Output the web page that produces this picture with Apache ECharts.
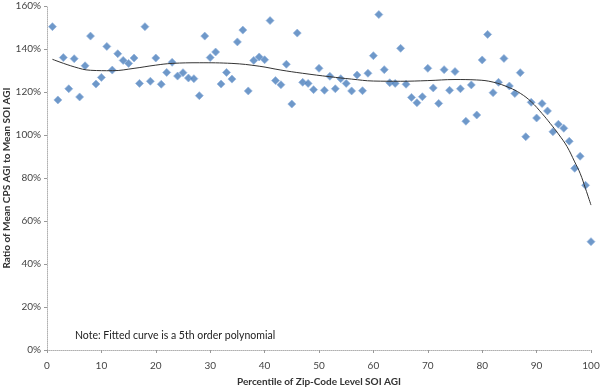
<!DOCTYPE html>
<html>
<head>
<meta charset="utf-8">
<script src="https://cdn.jsdelivr.net/npm/echarts@6/dist/echarts.min.js"></script>
<style>html,body{margin:0;padding:0;background:#fff}#c{width:600px;height:387px}</style>
</head>
<body>
<div id="c"></div>
<script>
const percentiles = [1,2,3,4,5,6,7,8,9,10,11,12,13,14,15,16,17,18,19,20,21,22,23,24,25,26,27,28,29,30,31,32,33,34,35,36,37,38,39,40,41,42,43,44,45,46,47,48,49,50,51,52,53,54,55,56,57,58,59,60,61,62,63,64,65,66,67,68,69,70,71,72,73,74,75,76,77,78,79,80,81,82,83,84,85,86,87,88,89,90,91,92,93,94,95,96,97,98,99,100];
const ratios = [150.4,116.3,136.0,121.5,135.5,117.7,132.2,146.0,123.7,126.8,141.2,130.2,137.8,134.7,133.3,135.8,124.0,150.4,125.0,135.8,123.6,129.1,133.8,127.4,129.0,126.5,126.2,118.3,146.0,136.0,138.6,123.7,129.1,126.0,143.3,148.8,120.5,134.7,136.3,135.0,153.2,125.3,123.4,132.9,114.4,147.4,124.5,124.0,121.1,131.0,120.8,127.3,121.5,126.2,124.0,120.5,127.9,120.6,128.7,136.9,156.0,130.4,124.3,124.0,140.3,123.6,117.5,115.0,117.8,131.0,121.9,114.7,130.4,120.8,129.5,121.5,106.4,123.3,109.3,134.9,146.8,119.7,124.5,135.6,122.8,119.3,129.0,99.2,115.2,107.9,114.6,111.2,101.5,105.0,103.1,97.1,84.5,90.1,76.6,50.4];
const curveX = [1,5,8,12,16,20,23,28,34,39,43,47,52,56,60,65,70,75,79,82,85,87,89,91,92.5,94,95.6,97,98,99,100];
const curveY = [135.2,131.7,130.1,129.9,131.0,132.5,133.3,133.6,133.3,132.0,130.2,128.7,127.1,126.0,125.1,125.0,125.3,125.8,125.6,124.6,122.0,119.4,115.5,110.0,105.4,100.5,94.6,87.5,82.2,75.0,67.4];
const xTicks = {min:0, max:100, interval:10};
const yTicks = {min:0, max:160, interval:20};

const chart = echarts.init(document.getElementById('c'), null, {renderer:'canvas'});
const font = 'Lato, Open Sans, sans-serif';
chart.setOption({
  animation:false,
  grid:{left:47, right:9, top:6, bottom:37, containLabel:false, outerBoundsMode:'none'},
  xAxis:{type:'value', min:xTicks.min, max:xTicks.max, interval:xTicks.interval,
    name:'Percentile of Zip-Code Level SOI AGI', nameLocation:'middle', nameGap:27, nameMoveOverlap:false,
    nameTextStyle:{fontFamily:font, fontSize:10, fontWeight:'bold', color:'#333'},
    axisLine:{lineStyle:{color:'#b0b0b0', type:'dotted', width:1}},
    axisTick:{show:true, length:3, inside:false, lineStyle:{color:'#999'}},
    axisLabel:{fontFamily:font, fontSize:10, color:'#444', margin:11},
    splitLine:{show:false}},
  yAxis:{type:'value', min:yTicks.min, max:yTicks.max, interval:yTicks.interval,
    name:'Ratio of Mean CPS AGI to Mean SOI AGI', nameLocation:'middle', nameGap:35, nameRotate:90, nameMoveOverlap:false,
    nameTextStyle:{fontFamily:font, fontSize:10, fontWeight:'bold', color:'#333'},
    axisLine:{show:true, lineStyle:{color:'#b0b0b0', type:'dotted', width:1}},
    axisTick:{show:true, length:3, lineStyle:{color:'#999'}},
    axisLabel:{fontFamily:font, fontSize:10, color:'#444', margin:6, formatter:'{value}%'},
    splitLine:{show:false}},
  graphic:[{type:'text', left:75, top:330, style:{text:'Note: Fitted curve is a 5th order polynomial', fontFamily:font, fontSize:10.5, fill:'#222'}}],
  series:[
    {type:'scatter', data:percentiles.map((p,i)=>[p, ratios[i]]), symbol:'diamond', symbolSize:8,
      itemStyle:{color:'#4a7ebb', borderColor:'#8fb0dc', borderWidth:0.8}, z:2},
    {type:'line', data:curveX.map((p,i)=>[p, curveY[i]]), smooth:0.4, showSymbol:false,
      lineStyle:{color:'#333', width:1}, z:3}
  ]
});
</script>
</body>
</html>
